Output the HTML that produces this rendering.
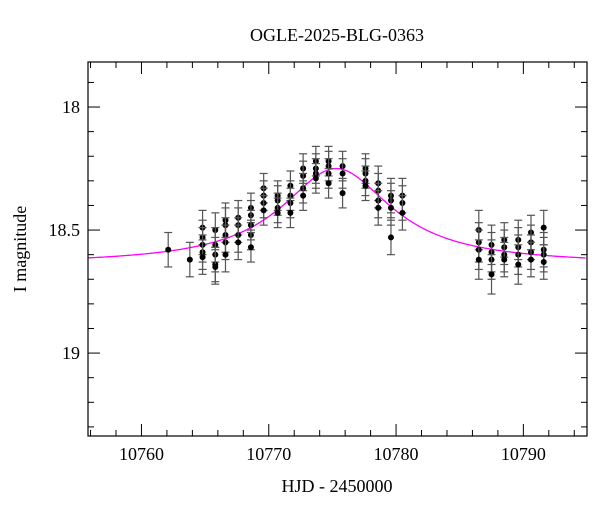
<!DOCTYPE html>
<html><head><meta charset="utf-8"><style>
body{margin:0;background:#fff}
svg text{font-family:"Liberation Serif","DejaVu Serif",serif;font-size:18px;fill:#000}
</style></head><body>
<svg id="chart" width="600" height="512" xmlns="http://www.w3.org/2000/svg">
<text x="337" y="41" text-anchor="middle">OGLE-2025-BLG-0363</text>
<text x="337" y="492" text-anchor="middle">HJD - 2450000</text>
<text transform="translate(26,249) rotate(-90)" text-anchor="middle">I magnitude</text>
<g id="ticks"></g><g id="model"></g><g id="pts"></g>
<rect x="88" y="62" width="499" height="374" fill="none" stroke="#000" stroke-width="1.2"/>
</svg>
<script>
const times=[10762.1,10763.8,10764.8,10764.8,10764.8,10764.8,10764.8,10765.8,10765.8,10765.8,10765.8,10765.8,10766.6,10766.6,10766.6,10766.6,10766.6,10767.6,10767.6,10767.6,10767.6,10768.6,10768.6,10768.6,10768.6,10768.6,10769.6,10769.6,10769.6,10769.6,10770.7,10770.7,10770.7,10770.7,10771.7,10771.7,10771.7,10771.7,10772.7,10772.7,10772.7,10772.7,10773.7,10773.7,10773.7,10773.7,10774.7,10774.7,10774.7,10774.7,10775.8,10775.8,10775.8,10777.6,10777.6,10777.6,10777.6,10778.6,10778.6,10778.6,10778.6,10779.6,10779.6,10779.6,10779.6,10780.5,10780.5,10780.5,10786.5,10786.5,10786.5,10786.5,10787.5,10787.5,10787.5,10787.5,10788.5,10788.5,10788.5,10788.5,10789.6,10789.6,10789.6,10789.6,10790.6,10790.6,10790.6,10790.6,10791.6,10791.6,10791.6,10791.6];
const mags=[18.58,18.62,18.49,18.53,18.56,18.59,18.61,18.5,18.56,18.6,18.64,18.65,18.46,18.48,18.52,18.55,18.6,18.45,18.48,18.52,18.55,18.41,18.44,18.48,18.52,18.57,18.33,18.36,18.39,18.42,18.36,18.38,18.41,18.43,18.32,18.36,18.39,18.43,18.25,18.28,18.33,18.36,18.22,18.25,18.27,18.29,18.22,18.24,18.27,18.31,18.24,18.27,18.35,18.25,18.27,18.3,18.32,18.31,18.34,18.38,18.41,18.36,18.38,18.41,18.53,18.36,18.39,18.43,18.5,18.55,18.58,18.62,18.56,18.59,18.62,18.68,18.54,18.57,18.6,18.62,18.54,18.57,18.6,18.64,18.51,18.55,18.59,18.62,18.49,18.58,18.6,18.63];
const errs=[0.07,0.07,0.07,0.07,0.07,0.07,0.07,0.07,0.07,0.07,0.07,0.07,0.07,0.07,0.07,0.07,0.07,0.07,0.07,0.07,0.07,0.06,0.06,0.06,0.06,0.06,0.06,0.06,0.06,0.06,0.06,0.06,0.06,0.06,0.06,0.06,0.06,0.06,0.06,0.06,0.06,0.06,0.06,0.06,0.06,0.06,0.06,0.06,0.06,0.06,0.06,0.06,0.06,0.06,0.06,0.06,0.06,0.07,0.07,0.07,0.07,0.07,0.07,0.07,0.07,0.07,0.07,0.07,0.08,0.08,0.08,0.08,0.08,0.08,0.08,0.08,0.07,0.07,0.07,0.07,0.08,0.08,0.08,0.08,0.07,0.07,0.07,0.07,0.07,0.07,0.07,0.07];
const xTicks=[10760,10770,10780,10790];
const yTicks=[18,18.5,19];
const modelBase=[18.64], modelAmp=[0.39], modelT0=[10775.3], modelWidth=[5.3];
const X0=88,X1=587,Y0=62,Y1=436, tMin=10755.8,tMax=10795.0, mMin=17.817,mMax=19.337;
const sx=t=>X0+(t-tMin)/(tMax-tMin)*(X1-X0);
const sy=m=>Y0+(m-mMin)/(mMax-mMin)*(Y1-Y0);
const NS="http://www.w3.org/2000/svg";
function mk(tag,attrs,parent){const e=document.createElementNS(NS,tag);for(const k in attrs)e.setAttribute(k,attrs[k]);parent.appendChild(e);return e;}
const tg=document.getElementById('ticks');
for(let t=10756;t<=10794;t+=2){const maj=t%10===0;const L=maj?12:6;const x=sx(t);
 let l=mk('line',{x1:x,x2:x,y1:Y1,y2:Y1-L,stroke:'#000'},tg);
 
 
 l=mk('line',{x1:x,x2:x,y1:Y0,y2:Y0+L,stroke:'#000'},tg);
 
 }
xTicks.forEach(t=>{const e=mk('text',{x:sx(t),y:Y1+24,'text-anchor':'middle'},tg);e.textContent=t;
 
 });
for(let i=0;i<=15;i++){const m=17.9+i*0.1;if(m>mMax)break;const maj=Math.abs(m*2-Math.round(m*2))<1e-6;const L=maj?12:6;const y=sy(m);
 let l=mk('line',{x1:X0,x2:X0+L,y1:y,y2:y,stroke:'#000'},tg);
 
 
 l=mk('line',{x1:X1,x2:X1-L,y1:y,y2:y,stroke:'#000'},tg);
 
 }
yTicks.forEach(m=>{const e=mk('text',{x:X0-8,y:sy(m)+6,'text-anchor':'end'},tg);e.textContent=m;
 
 });
let d='';for(let t=tMin;t<=tMax;t+=0.1){const u=(t-modelT0[0])/modelWidth[0];const m=modelBase[0]-modelAmp[0]/(1+u*u);d+=(d?'L':'M')+sx(t).toFixed(1)+','+sy(m).toFixed(1);}
const p=mk('path',{d:d,fill:'none',stroke:'#f0f','stroke-width':1.3},document.getElementById('model'));


const pg=document.getElementById('pts');
times.forEach((t,i)=>{const x=sx(t),y1=sy(mags[i]-errs[i]),y2=sy(mags[i]+errs[i]);
 const g=mk('g',{},pg);
 
 
 mk('line',{x1:x,x2:x,y1:y1,y2:y2,stroke:'#555','stroke-width':1.2},g);
 mk('line',{x1:x-4,x2:x+4,y1:y1,y2:y1,stroke:'#555','stroke-width':1.2},g);
 mk('line',{x1:x-4,x2:x+4,y1:y2,y2:y2,stroke:'#555','stroke-width':1.2},g);
 mk('circle',{cx:x,cy:sy(mags[i]),r:3,fill:'#000'},g);});
</script>
</body></html>
